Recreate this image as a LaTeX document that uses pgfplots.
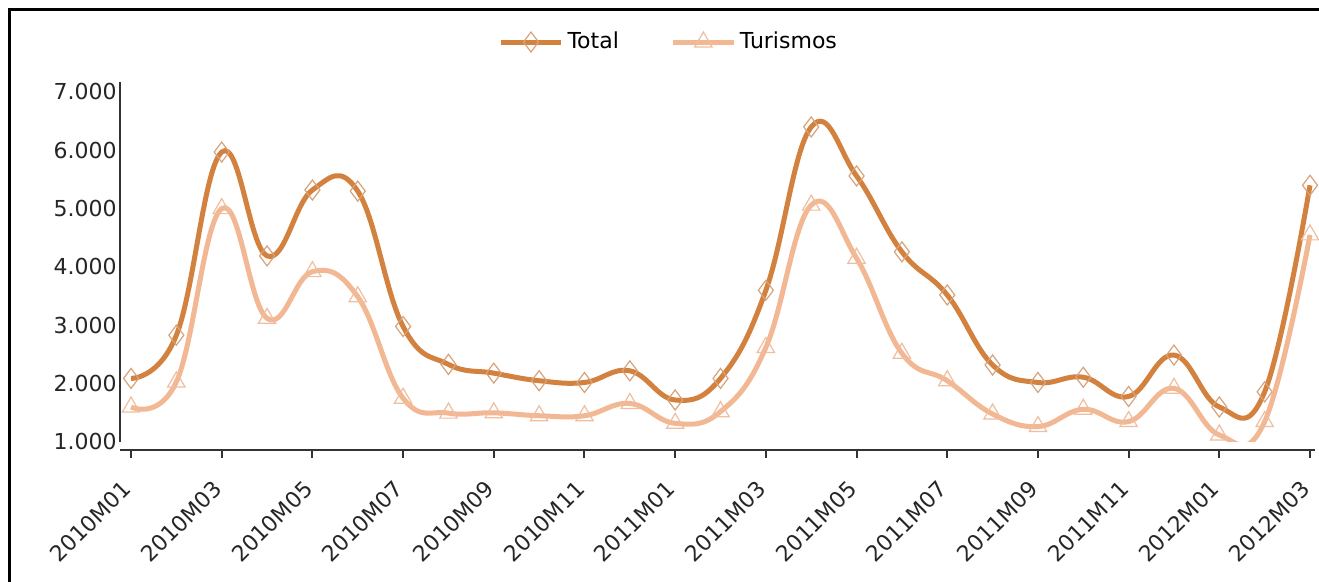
\documentclass[border=0pt]{standalone}
\usepackage{pgfplots}
\pgfplotsset{compat=1.18}
\usepackage{fontspec}
\setmainfont{DejaVu Sans}

\definecolor{totline}{HTML}{D2823E}
\definecolor{totmark}{HTML}{D8A27A}
\definecolor{turline}{HTML}{F2B793}
\definecolor{turmark}{HTML}{F0BE9E}
\definecolor{axcol}{HTML}{333333}

\newcommand{\lblfont}{\fontsize{11}{13}\selectfont}

\begin{document}
\begin{tikzpicture}
\useasboundingbox (0pt,0pt) rectangle (659.5pt,291pt);
\fill[white] (0pt,0pt) rectangle (659.5pt,291pt);
\draw[line width=1.3pt] (4.75pt,0pt) -- (4.75pt,286.25pt) -- (659.5pt,286.25pt);

\begin{axis}[
    at={(60pt,70pt)}, anchor=south west,
    scale only axis,
    width=597.5pt, height=180pt,
    xmin=-0.243, xmax=26.11,
    ymin=1000, ymax=7171,
    axis lines*=left,
    axis x line shift=4pt,
    axis line style={line width=1pt, color=axcol},
    clip mode=individual,
    xtick={0,2,...,26},
    xticklabels={2010M01,2010M03,2010M05,2010M07,2010M09,2010M11,2011M01,
                 2011M03,2011M05,2011M07,2011M09,2011M11,2012M01,2012M03},
    ytick={1000,2000,...,7000},
    scaled y ticks=false,
    /pgf/number format/1000 sep={.},
    /pgf/number format/assume math mode=true,
    tick align=outside,
    major tick length=4pt,
    xtick style={line width=1pt, color=axcol},
    ytick style={draw=none},
    xticklabel style={yshift=-9pt, xshift=-5pt, rotate=45, anchor=north east, inner sep=1pt,
        font=\lblfont, text=black!85},
    yticklabel style={xshift=4pt, anchor=east, inner sep=1.5pt, font=\lblfont, text=black!85},
    legend style={draw=none, fill=none, at={(0.46,1.111)}, anchor=center,
        font=\lblfont, legend columns=-1,
        /tikz/every even column/.append style={column sep=24pt}},
    legend image code/.code={%
        \draw[mark repeat=2,mark phase=2,#1] plot coordinates {(0pt,0pt)(15pt,0pt)(30pt,0pt)};},
    every axis plot/.append style={smooth, tension=0.7, line width=2.5pt},
]
% Total
\addplot[totline, mark=diamond, mark size=5pt,
    mark options={draw=totmark, fill=none, line width=0.6pt, solid}]
coordinates {
(0,2090)(1,2830)(2,5970)(3,4190)(4,5320)(5,5300)(6,2980)(7,2330)(8,2180)
(9,2050)(10,2020)(11,2220)(12,1720)(13,2090)(14,3600)(15,6400)(16,5560)
(17,4260)(18,3520)(19,2320)(20,2020)(21,2110)(22,1780)(23,2490)(24,1600)
(25,1860)(26,5400)
};
\addlegendentry{Total}
% Turismos
\addplot[turline, mark=triangle, mark size=5pt,
    mark options={draw=turmark, fill=none, line width=0.6pt, solid}]
coordinates {
(0,1600)(1,2030)(2,5000)(3,3120)(4,3920)(5,3490)(6,1750)(7,1495)(8,1500)
(9,1450)(10,1450)(11,1660)(12,1320)(13,1520)(14,2620)(15,5060)(16,4150)
(17,2520)(18,2050)(19,1480)(20,1265)(21,1560)(22,1350)(23,1920)(24,1120)
(25,1350)(26,4550)
};
\addlegendentry{Turismos}
\end{axis}
\end{tikzpicture}
\end{document}
